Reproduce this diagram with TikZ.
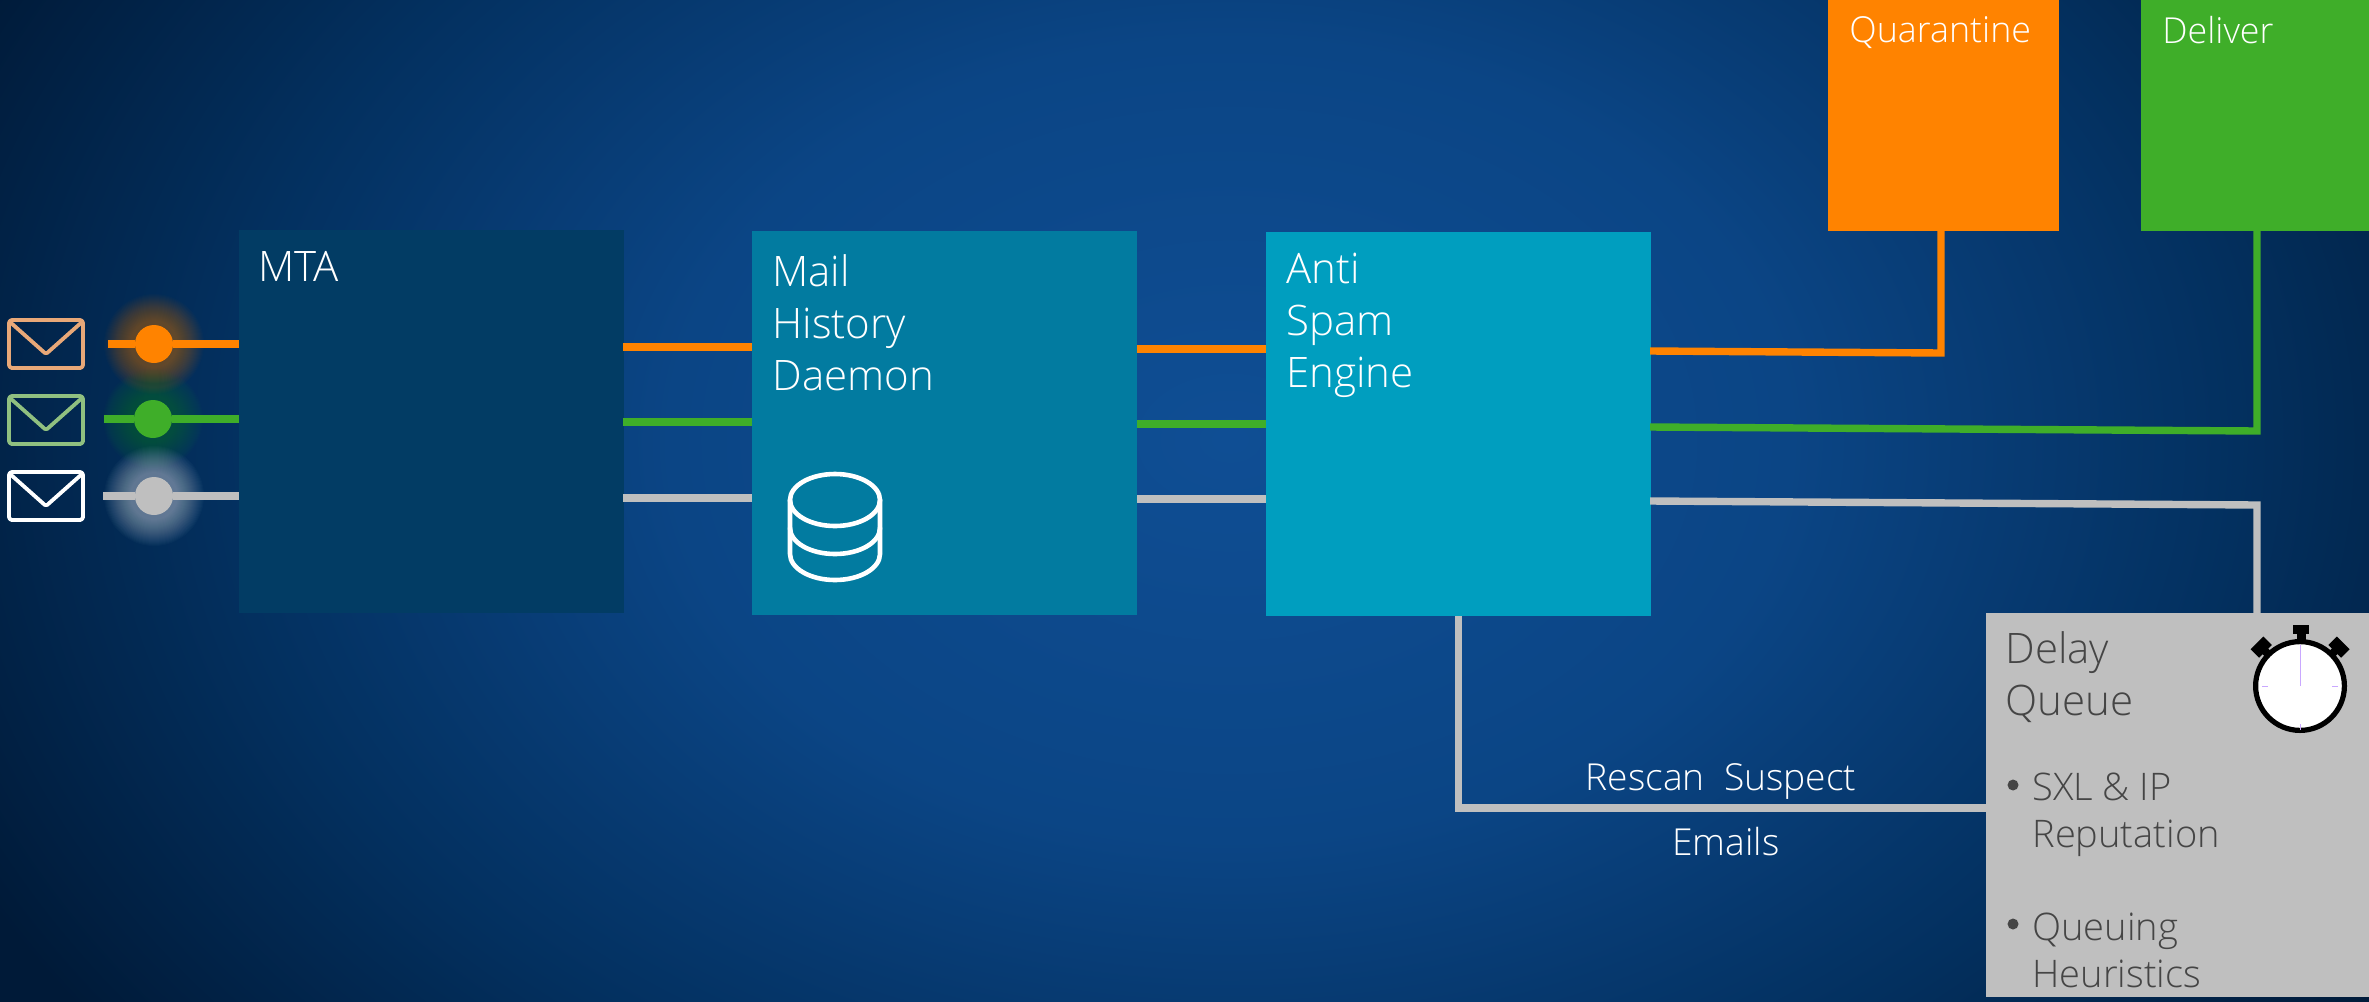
\documentclass[tikz,border=0pt]{standalone}
\usepackage{fontspec}
\usetikzlibrary{calc}
\setmainfont{Open Sans}[UprightFont=* Light]
\definecolor{bgA}{HTML}{0F4E94}
\definecolor{bgB}{HTML}{0B4585}
\definecolor{bgC}{HTML}{03305F}
\definecolor{bgD}{HTML}{001A38}
\definecolor{cMTA}{HTML}{023C64}
\definecolor{cMail}{HTML}{027BA0}
\definecolor{cAnti}{HTML}{009EBF}
\definecolor{cOr}{HTML}{FF8300}
\definecolor{cGr}{HTML}{3FAE29}
\definecolor{cGy}{HTML}{BFBFBF}
\definecolor{cTxt}{HTML}{454545}
\definecolor{cLil}{HTML}{C9A8FF}
\definecolor{cEnvO}{HTML}{E8A878}
\definecolor{cEnvG}{HTML}{90C080}
\definecolor{cGlowG}{HTML}{1E9A2A}
\pgfdeclareradialshading{bgshade}{\pgfpoint{0bp}{0bp}}{%
 color(0bp)=(bgA); color(10bp)=(bgB); color(18bp)=(bgC); color(25bp)=(bgD); color(50bp)=(bgD)}
\tikzset{
 x=0.5pt,y=-0.5pt,
 box/.style={anchor=north west,inner sep=0pt,outer sep=0pt,minimum width=192.5pt,minimum height=192pt},
 wire/.style={line width=3.7pt,line cap=butt,line join=miter},
 dotn/.style={circle,inner sep=0pt,outer sep=0pt,minimum size=19pt},
 title/.style={anchor=north west,inner sep=0pt,text=white,align=left,font=\fontsize{21}{26}\selectfont},
 small/.style={anchor=north west,inner sep=0pt,text=white,font=\fontsize{17.9}{21}\selectfont},
 dark/.style={anchor=north west,inner sep=0pt,text=cTxt,align=left,font=\fontsize{21}{26}\selectfont},
 darks/.style={anchor=north west,inner sep=0pt,text=cTxt,align=left,font=\fontsize{19}{23.5}\selectfont},
 wlabel/.style={anchor=base,inner sep=0pt,text=white,font=\fontsize{18.6}{21}\selectfont},
 bull/.style={circle,fill=cTxt,inner sep=0pt,minimum size=5.5pt},
 envelope/.style={line width=1.9pt,rounded corners=1.5pt,line join=round},
}
\newcommand{\glow}[3]{\foreach \r in {50,49,...,24}{\fill[#3,opacity=0.019] (#1,#2) circle (\r*0.5pt);}}
\newcommand{\envel}[2]{%
 \draw[envelope,#2] (9,#1) rectangle (83,#1+48);
 \draw[envelope,#2,rounded corners=0.8pt] (10,#1+2) -- (46,#1+34) -- (82,#1+2);}
\begin{document}
\begin{tikzpicture}
\useasboundingbox (0,0) rectangle (2369,1001);
\clip (0,0) rectangle (2369,1001);
\shade[shading=bgshade] (1230-1400,440-1000) rectangle (1230+1400,440+1000);
% glows
\glow{154}{344}{cOr}
\glow{153}{419}{cGlowG}
\glow{154}{496}{white}
% boxes
\node[box,fill=cMTA,minimum height=191.5pt] (mta) at (239,230) {};
\node[box,fill=cMail] (mail) at (752,231) {};
\node[box,fill=cAnti] (anti) at (1266,232) {};
\node[box,fill=cOr,minimum width=115.5pt,minimum height=115.5pt] (quar) at (1828,0) {};
\node[box,fill=cGr,minimum width=114pt,minimum height=115.5pt] (deliver) at (2141,0) {};
% envelopes
\envel{320}{cEnvO}
\envel{396}{cEnvG}
\envel{472}{white}
% input dots and wires
\node[dotn,fill=cOr] (dO) at (154,344) {};
\node[dotn,fill=cGr] (dG) at (153,419) {};
\node[dotn,fill=cGy] (dW) at (154,496) {};
\coordinate (sO) at (108,344);
\coordinate (sG) at (104,419);
\coordinate (sW) at (103,496);
\draw[wire,cOr] (sO) -- (dO) (dO) -- (mta.west |- dO);
\draw[wire,cGr] (sG) -- (dG) (dG) -- (mta.west |- dG);
\draw[wire,cGy] (sW) -- (dW) (dW) -- (mta.west |- dW);
% MTA to Mail
\coordinate (mO) at (623,347); \coordinate (mG) at (623,422); \coordinate (mW) at (623,498);
\draw[wire,cOr] (mO) -- (mail.west |- mO);
\draw[wire,cGr] (mG) -- (mail.west |- mG);
\draw[wire,cGy] (mW) -- (mail.west |- mW);
% Mail to Anti
\coordinate (nO) at (1137,349); \coordinate (nG) at (1137,424); \coordinate (nW) at (1137,499);
\draw[wire,cOr] (nO) -- (anti.west |- nO);
\draw[wire,cGr] (nG) -- (anti.west |- nG);
\draw[wire,cGy] (nW) -- (anti.west |- nW);
% Delay box
\node[box,fill=cGy,minimum width=191.5pt,minimum height=192pt] (delay) at (1986,613) {};
% Anti outputs
\coordinate (aO) at (1650,351); \coordinate (bO) at (1941,353);
\coordinate (aG) at (1650,427); \coordinate (bG) at (2257,431);
\coordinate (aW) at (1650,501); \coordinate (bW) at (2257,505);
\draw[wire,cOr] (aO) -- (bO) -- (bO |- quar.south);
\draw[wire,cGr] (aG) -- (bG) -- (bG |- deliver.south);
\draw[wire,cGy] (aW) -- (bW) -- (bW |- delay.north);
\coordinate (rY) at (0,808);
\coordinate (rB) at (anti.south |- rY);
\draw[wire,cGy] (anti.south) -- (rB) -- (delay.west |- rB);
% labels
\node[title] (tMTA) at (258,251) {MTA};
\node[title] (tMail) at (772,254) {Mail\\History\\Daemon};
\node[title] (tAnti) at (1286,253) {Anti\\Spam\\Engine};
\node[small] (tQ) at (1849,16) {Quarantine};
\node[small] (tD) at (2162,16) {Deliver};
\node[wlabel] (tR) at (1721,790) {Rescan\ \ Suspect};
\node[wlabel] (tE) at (1726,855) {Emails};
\node[dark] (tDQ) at (2005,631) {Delay\\Queue};
\node[darks] (tB1) at (2032,773) {SXL \& IP\\Reputation};
\node[darks] (tB2) at (2032,913) {Queuing\\Heuristics};
\node[bull] (b1) at (2013,785) {};
\node[bull] (b2) at (2013,924) {};
% database icon
\begin{scope}[white,line width=2.3pt,line cap=round]
\draw (835,500) ellipse [x radius=45,y radius=26];
\draw (790,500) -- (790,554) arc[start angle=180,end angle=360,x radius=45,y radius=-26] -- (880,500);
\draw (790,528) arc[start angle=180,end angle=360,x radius=45,y radius=-26];
\end{scope}
% stopwatch
\fill[black] (2293,625) rectangle (2309,634);
\fill[black] (2297,634) rectangle (2306,642);
\foreach \a in {1,-1}{
 \begin{scope}[shift={(2300,686)},rotate=\a*45]
  \fill[black] (-9,-61) rectangle (9,-49);
  \fill[black] (-4,-50) rectangle (4,-42);
 \end{scope}}
\fill[white,draw=black,line width=2.6pt] (2300,686) circle (22.2pt);
\draw[cLil,line width=0.4pt] (2262,686) -- (2268,686) (2332,686) -- (2338,686) (2300,724) -- (2300,730);
\draw[cLil,line width=0.5pt] (2300,686) -- (2300,645);
\end{tikzpicture}
\end{document}
